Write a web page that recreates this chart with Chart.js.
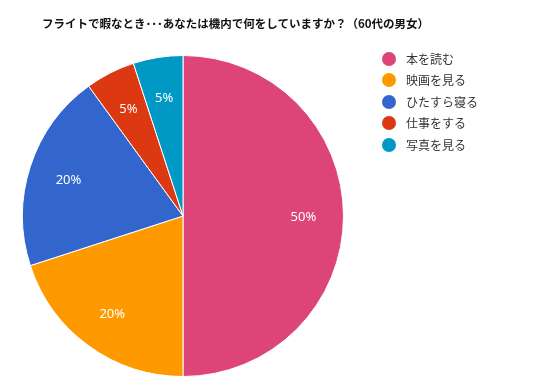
<!DOCTYPE html>
<html lang="ja">
<head>
<meta charset="utf-8">
<script src="https://cdn.jsdelivr.net/npm/chart.js@4"></script>
<style>
  html, body { margin: 0; padding: 0; background: #fff; }
  #wrap { position: relative; width: 559px; height: 389px; }
  #title {
    position: absolute; left: 42px; top: 16px;
    font: bold 11.5px/14px "Noto Sans CJK JP", sans-serif;
    color: #111; white-space: nowrap;
  }
  #legend { position: absolute; left: 382px; top: 48px; margin: 0; padding: 0; list-style: none; }
  #legend li {
    display: flex; align-items: center; height: 21.5px;
    font: 12px/14px "Noto Sans CJK JP", sans-serif; color: #333; white-space: nowrap;
  }
  #legend span.dot { width: 14px; height: 14px; border-radius: 50%; margin-right: 10px; }
  canvas { position: absolute; left: 0; top: 0; }
</style>
</head>
<body>
<div id="wrap">
  <canvas id="myChart" width="559" height="389"></canvas>
  <div id="title">フライトで暇なとき･･･あなたは機内で何をしていますか？（60代の男女）</div>
  <ul id="legend"></ul>
</div>
<script>
const labels = ['本を読む', '映画を見る', 'ひたすら寝る', '仕事をする', '写真を見る'];
const shares = [50, 20, 20, 5, 5];
const colors = ['#DD4477', '#FF9900', '#3366CC', '#DC3912', '#0099C6'];

// percent text inside each slice, at 3/4 of the radius
const sliceLabels = {
  id: 'sliceLabels',
  afterDatasetsDraw(chart) {
    const ctx = chart.ctx;
    const meta = chart.getDatasetMeta(0);
    const total = shares.reduce((a, b) => a + b, 0);
    ctx.save();
    ctx.fillStyle = '#fff';
    ctx.font = '13px "Noto Sans", sans-serif';
    ctx.textAlign = 'center';
    ctx.textBaseline = 'middle';
    meta.data.forEach((arc, i) => {
      const p = arc.getProps(['x', 'y', 'startAngle', 'endAngle', 'outerRadius'], true);
      const mid = (p.startAngle + p.endAngle) / 2;
      const r = p.outerRadius * 0.75;
      ctx.fillText(Math.round(shares[i] / total * 100) + '%', p.x + Math.cos(mid) * r, p.y + 1 + Math.sin(mid) * r);
    });
    ctx.restore();
  }
};

// legend list built from the chart's own legend items
const htmlLegend = {
  id: 'htmlLegend',
  afterUpdate(chart) {
    const ul = document.getElementById('legend');
    ul.innerHTML = '';
    const items = chart.options.plugins.legend.labels.generateLabels(chart);
    items.forEach(item => {
      const li = document.createElement('li');
      const dot = document.createElement('span');
      dot.className = 'dot';
      dot.style.background = item.fillStyle;
      li.appendChild(dot);
      li.appendChild(document.createTextNode(item.text));
      ul.appendChild(li);
    });
  }
};

new Chart('myChart', {
  type: 'pie',
  data: {
    labels: labels,
    datasets: [{
      data: shares,
      backgroundColor: colors,
      borderColor: '#fff',
      borderWidth: 1
    }]
  },
  options: {
    responsive: false,
    animation: false,
    layout: { padding: { left: 22, right: 215, top: 55, bottom: 12 } },
    plugins: {
      legend: { display: false },
      title: { display: false },
      tooltip: { enabled: false }
    }
  },
  plugins: [sliceLabels, htmlLegend]
});
</script>
</body>
</html>
